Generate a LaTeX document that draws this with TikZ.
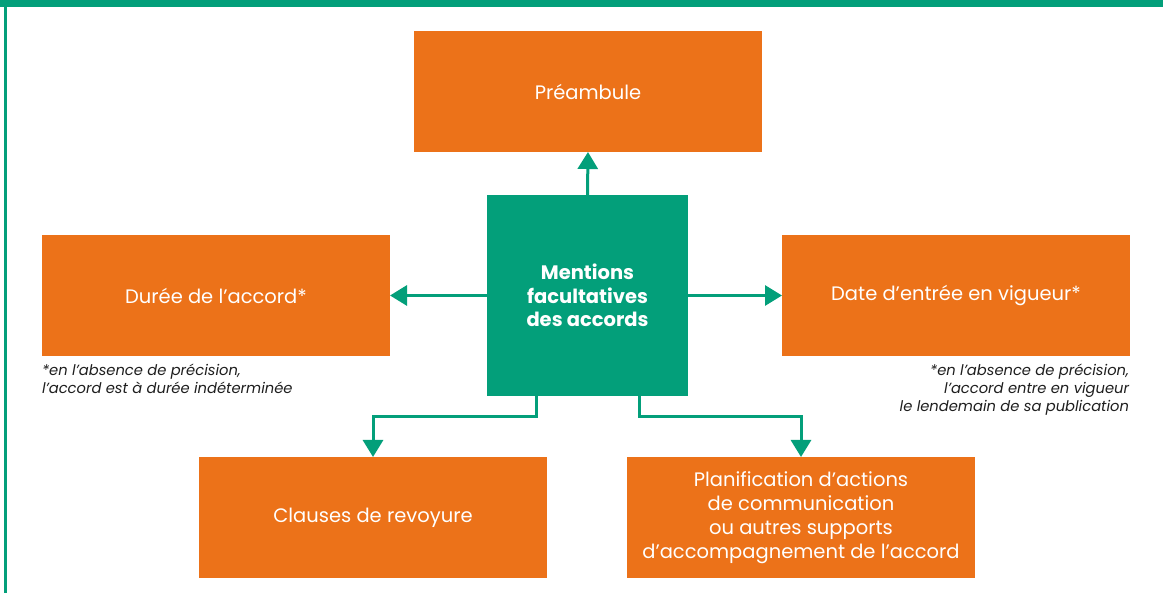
\documentclass[tikz,border=0pt]{standalone}
\usepackage{fontspec}
\setmainfont{Poppins}
\usetikzlibrary{arrows.meta}
\definecolor{vert}{RGB}{3,159,122}
\definecolor{orange}{RGB}{236,114,25}
\definecolor{gristexte}{RGB}{30,30,30}
\tikzset{
  obox/.style={fill=orange, text=white, minimum width=348, minimum height=121, inner sep=0, outer sep=0, align=center, font=\fontsize{19.5}{24}\selectfont},
  gbox/.style={fill=vert, text=white, minimum width=201, minimum height=201, inner sep=0, outer sep=0, align=center, font=\fontsize{19.5}{23.5}\selectfont\bfseries},
  note/.style={text=gristexte, inner sep=0, outer sep=0, font=\fontsize{14.7}{18}\selectfont\itshape},
  arr/.style={draw=vert, line width=3, -{Triangle[width=20,length=17]}},
}
\begin{document}
\begin{tikzpicture}[x=1pt,y=-1pt]
\useasboundingbox (0,0) rectangle (1163,593);
\fill[vert] (0,0) rectangle (1163,7);
\fill[vert] (4,7) rectangle (6.5,593);
\node[obox] (pre) at (588,91.5) {Préambule};
\node[gbox] (c) at (587.5,295.5) {Mentions\\facultatives\\des accords};
\node[obox] (duree) at (216,295.5) {Durée de l’accord*};
\node[obox] (date) at (956,295.5) {Date d’entrée en vigueur*};
\node[obox] (clauses) at (373,517.5) {Clauses de revoyure};
\node[obox] (plan) at (801,517.5) {Planification d’actions\\de communication\\ou autres supports\\d’accompagnement de l’accord};
\node[note, anchor=north west, align=left] (n1) at (42,364) {*en l’absence de précision,\\l’accord est à durée indéterminée};
\node[note, anchor=north east, align=right] (n2) at (1129,364) {*en l’absence de précision,\\l’accord entre en vigueur\\le lendemain de sa publication};
\draw[arr] (c.north) -- (pre.south);
\draw[arr] (c.west) -- (duree.east);
\draw[arr] (c.east) -- (date.west);
\draw[arr] ([xshift=-51.5]c.south) -- ++(0,21) -| (clauses.north);
\draw[arr] ([xshift=51.5]c.south) -- ++(0,21) -| (plan.north);
\end{tikzpicture}
\end{document}
